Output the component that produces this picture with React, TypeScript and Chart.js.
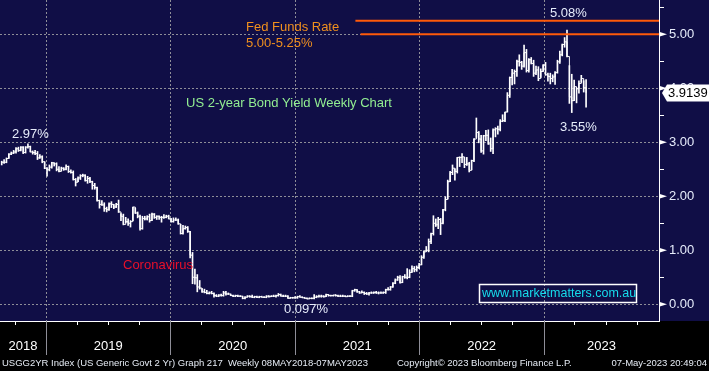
import React, { useEffect, useRef } from "react";
import { Chart, registerables } from "chart.js";

Chart.register(...registerables);

// ---------- DATA ----------
// Weekly bars (Friday of each week), starting week ending 24-Aug-2018
const firstWeekEnd = "2018-08-24";

const closes = [
  // 2018
  2.63, 2.63, 2.70, 2.78, 2.80, 2.82, 2.88, 2.85, 2.91, 2.81, 2.91, 2.92, 2.82, 2.81, 2.79, 2.71, 2.73, 2.64, 2.52, 2.49,
  // 2019
  2.54, 2.62, 2.60, 2.50, 2.46, 2.52, 2.50, 2.55, 2.46, 2.44, 2.31, 2.26, 2.34, 2.38, 2.39, 2.29, 2.33, 2.27, 2.20, 2.16,
  1.92, 1.85, 1.84, 1.77, 1.75, 1.86, 1.85, 1.80, 1.85, 1.71, 1.63, 1.48, 1.53, 1.50, 1.53, 1.80, 1.69, 1.63, 1.40, 1.59,
  1.58, 1.62, 1.55, 1.67, 1.61, 1.63, 1.61, 1.61, 1.61, 1.63, 1.58, 1.53,
  // 2020
  1.56, 1.56, 1.49, 1.31, 1.40, 1.42, 1.35, 0.91, 0.50, 0.49, 0.32, 0.30, 0.23, 0.22, 0.20, 0.21, 0.20, 0.16, 0.15, 0.17,
  0.16, 0.21, 0.19, 0.19, 0.16, 0.15, 0.16, 0.15, 0.15, 0.11, 0.13, 0.15, 0.14, 0.13, 0.14, 0.13, 0.14, 0.13, 0.13, 0.15,
  0.14, 0.15, 0.15, 0.16, 0.18, 0.15, 0.15, 0.15, 0.11, 0.12, 0.12, 0.12,
  // 2021
  0.14, 0.13, 0.12, 0.11, 0.10, 0.11, 0.11, 0.13, 0.14, 0.15, 0.15, 0.14, 0.18, 0.16, 0.16, 0.17, 0.16, 0.15, 0.15, 0.15,
  0.14, 0.15, 0.15, 0.25, 0.27, 0.23, 0.21, 0.22, 0.20, 0.19, 0.21, 0.21, 0.22, 0.21, 0.21, 0.21, 0.22, 0.27, 0.27, 0.32,
  0.39, 0.45, 0.50, 0.40, 0.51, 0.50, 0.50, 0.59, 0.66, 0.64, 0.68, 0.73,
  // 2022
  0.87, 0.97, 1.00, 1.16, 1.31, 1.50, 1.47, 1.57, 1.50, 1.75, 1.94, 2.27, 2.44, 2.52, 2.46, 2.72, 2.72, 2.73, 2.59, 2.60,
  2.48, 2.66, 3.06, 3.18, 3.06, 2.84, 3.12, 3.13, 2.97, 2.88, 3.23, 3.25, 3.24, 3.39, 3.40, 3.56, 3.87, 4.20, 4.28, 4.31,
  4.50, 4.48, 4.41, 4.66, 4.33, 4.53, 4.46, 4.28, 4.34, 4.18, 4.31, 4.43,
  // 2023
  4.25, 4.22, 4.18, 4.21, 4.29, 4.49, 4.62, 4.81, 4.86, 4.59, 3.84, 3.77, 4.03, 3.99, 4.09, 4.18, 4.01, 3.9139,
];

const highs = [
  // 2018
  2.65, 2.68, 2.71, 2.79, 2.82, 2.85, 2.90, 2.91, 2.92, 2.92, 2.92, 2.97, 2.93, 2.84, 2.85, 2.83, 2.77, 2.75, 2.64, 2.53,
  // 2019
  2.58, 2.63, 2.62, 2.62, 2.55, 2.54, 2.53, 2.58, 2.56, 2.49, 2.47, 2.33, 2.36, 2.40, 2.41, 2.40, 2.37, 2.35, 2.28, 2.24,
  2.17, 1.93, 1.92, 1.88, 1.80, 1.88, 1.90, 1.85, 1.87, 1.93, 1.68, 1.67, 1.61, 1.58, 1.55, 1.80, 1.78, 1.71, 1.65, 1.63,
  1.63, 1.64, 1.67, 1.69, 1.68, 1.64, 1.64, 1.63, 1.66, 1.65, 1.65, 1.59,
  // 2020
  1.60, 1.60, 1.58, 1.48, 1.46, 1.45, 1.44, 1.35, 0.96, 0.65, 0.55, 0.44, 0.29, 0.28, 0.26, 0.23, 0.24, 0.21, 0.18, 0.18,
  0.19, 0.24, 0.24, 0.21, 0.19, 0.17, 0.17, 0.17, 0.16, 0.15, 0.14, 0.16, 0.16, 0.17, 0.15, 0.15, 0.15, 0.15, 0.14, 0.16,
  0.16, 0.16, 0.17, 0.17, 0.20, 0.19, 0.17, 0.17, 0.16, 0.13, 0.13, 0.14,
  // 2021
  0.15, 0.16, 0.14, 0.13, 0.12, 0.12, 0.12, 0.18, 0.16, 0.17, 0.17, 0.16, 0.19, 0.18, 0.17, 0.17, 0.18, 0.17, 0.17, 0.17,
  0.16, 0.16, 0.16, 0.26, 0.28, 0.27, 0.24, 0.25, 0.23, 0.22, 0.22, 0.23, 0.23, 0.24, 0.23, 0.23, 0.23, 0.28, 0.31, 0.33,
  0.40, 0.47, 0.52, 0.53, 0.52, 0.55, 0.66, 0.64, 0.71, 0.70, 0.71, 0.76,
  // 2022
  0.90, 0.99, 1.07, 1.21, 1.32, 1.64, 1.58, 1.61, 1.59, 1.76, 1.99, 2.30, 2.46, 2.58, 2.51, 2.72, 2.73, 2.79, 2.72, 2.72,
  2.63, 2.67, 3.07, 3.45, 3.20, 3.13, 3.13, 3.22, 3.23, 3.08, 3.25, 3.27, 3.30, 3.42, 3.51, 3.56, 3.92, 4.21, 4.35, 4.34,
  4.52, 4.62, 4.50, 4.80, 4.72, 4.55, 4.57, 4.52, 4.41, 4.40, 4.36, 4.44,
  // 2023
  4.48, 4.28, 4.28, 4.25, 4.31, 4.52, 4.69, 4.82, 4.94, 5.08, 4.42, 4.26, 4.15, 4.01, 4.14, 4.24, 4.14, 4.16,
];

const lows = [
  // 2018
  2.58, 2.61, 2.62, 2.70, 2.77, 2.79, 2.80, 2.83, 2.84, 2.79, 2.80, 2.89, 2.82, 2.78, 2.77, 2.68, 2.70, 2.62, 2.51, 2.37,
  // 2019
  2.47, 2.52, 2.56, 2.47, 2.45, 2.47, 2.48, 2.49, 2.44, 2.43, 2.30, 2.19, 2.27, 2.31, 2.36, 2.28, 2.24, 2.25, 2.13, 2.13,
  1.91, 1.78, 1.83, 1.72, 1.71, 1.74, 1.79, 1.77, 1.79, 1.70, 1.55, 1.47, 1.51, 1.46, 1.43, 1.55, 1.68, 1.60, 1.37, 1.39,
  1.56, 1.56, 1.52, 1.55, 1.59, 1.57, 1.57, 1.52, 1.59, 1.60, 1.58, 1.52,
  // 2020
  1.52, 1.55, 1.48, 1.30, 1.30, 1.39, 1.33, 0.86, 0.38, 0.37, 0.23, 0.28, 0.22, 0.21, 0.19, 0.19, 0.19, 0.13, 0.14, 0.14,
  0.15, 0.15, 0.17, 0.18, 0.16, 0.14, 0.14, 0.14, 0.14, 0.10, 0.10, 0.13, 0.13, 0.12, 0.12, 0.12, 0.12, 0.13, 0.12, 0.12,
  0.13, 0.14, 0.14, 0.13, 0.15, 0.15, 0.14, 0.14, 0.11, 0.11, 0.11, 0.11,
  // 2021
  0.11, 0.13, 0.12, 0.11, 0.097, 0.10, 0.10, 0.10, 0.12, 0.13, 0.13, 0.13, 0.14, 0.15, 0.15, 0.15, 0.15, 0.14, 0.14, 0.14,
  0.14, 0.14, 0.14, 0.14, 0.24, 0.22, 0.20, 0.21, 0.18, 0.18, 0.17, 0.20, 0.20, 0.20, 0.19, 0.20, 0.20, 0.20, 0.26, 0.26,
  0.31, 0.38, 0.44, 0.39, 0.40, 0.48, 0.47, 0.49, 0.59, 0.60, 0.61, 0.66,
  // 2022
  0.73, 0.85, 0.98, 0.97, 1.12, 1.28, 1.44, 1.40, 1.29, 1.49, 1.73, 1.95, 2.27, 2.40, 2.30, 2.43, 2.55, 2.62, 2.53, 2.57,
  2.45, 2.49, 2.64, 3.09, 2.99, 2.81, 2.78, 3.03, 2.96, 2.83, 2.79, 3.10, 3.15, 3.21, 3.38, 3.38, 3.56, 3.83, 4.06, 4.08,
  4.22, 4.41, 4.35, 4.39, 4.30, 4.30, 4.45, 4.22, 4.25, 4.14, 4.20, 4.31,
  // 2023
  4.24, 4.13, 4.08, 4.12, 4.07, 4.28, 4.46, 4.60, 4.76, 4.58, 3.72, 3.55, 3.77, 3.73, 3.91, 4.11, 3.93, 3.65,
];

const yearLabels = [2018, 2019, 2020, 2021, 2022, 2023];
const yTickValues = [0, 1, 2, 3, 4, 5];
const fedFundsUpper = 5.25;
const fedFundsLower = 5.0;
const fedUpperFrom = "2021-06-27";
const fedLowerFrom = "2021-07-12";
const axisStart = "2018-08-19";
const axisEnd = "2023-12-05";

// ---------- HELPERS ----------
const dayNum = (s: string) => {
  const [y, m, d] = s.split("-").map(Number);
  return Date.UTC(y, m - 1, d) / 86400000;
};
const weekX = closes.map((_, i) => dayNum(firstWeekEnd) + 7 * i);

const NAVY = "#100e46";
const GRID = "#8e8e98";
const FONT = "'Liberation Sans', Arial, sans-serif";
const LABEL = "#e6ecfb";

const decorPlugin = {
  id: "decor",
  beforeDraw(chart: any) {
    const { ctx, width, height, chartArea } = chart;
    ctx.save();
    ctx.fillStyle = NAVY;
    ctx.fillRect(0, 0, width, chartArea.bottom);
    ctx.fillStyle = "#000";
    ctx.fillRect(0, chartArea.bottom, width, height - chartArea.bottom);
    ctx.restore();
  },
  beforeDatasetsDraw(chart: any) {
    const { ctx, chartArea } = chart;
    const xs = chart.scales.x;
    ctx.save();
    ctx.strokeStyle = GRID;
    ctx.lineWidth = 1;
    ctx.setLineDash([2, 2]);
    yearLabels.forEach((yr) => {
      const v = dayNum(`${yr}-01-01`);
      if (v <= xs.min || v >= xs.max) return;
      const px = Math.round(xs.getPixelForValue(v)) + 0.5;
      ctx.beginPath();
      ctx.moveTo(px, chartArea.top);
      ctx.lineTo(px, chartArea.bottom);
      ctx.stroke();
    });
    ctx.restore();
  },
  afterDraw(chart: any) {
    const { ctx, chartArea, width } = chart;
    const xs = chart.scales.x;
    const ys = chart.scales.y;
    const bottom = chartArea.bottom;
    const right = chartArea.right;
    ctx.save();

    // x axis: year separators, quarter ticks, year labels
    ctx.lineWidth = 1;
    yearLabels.forEach((yr) => {
      [1, 4, 7, 10].forEach((mo) => {
        const v = dayNum(`${yr}-${String(mo).padStart(2, "0")}-01`);
        if (v <= xs.min || v >= xs.max) return;
        const px = Math.round(xs.getPixelForValue(v)) + 0.5;
        ctx.beginPath();
        if (mo === 1) {
          ctx.strokeStyle = GRID;
          ctx.moveTo(px, bottom);
          ctx.lineTo(px, bottom + 34);
        } else {
          ctx.strokeStyle = "#ffffff";
          ctx.moveTo(px, bottom);
          ctx.lineTo(px, bottom + 4);
        }
        ctx.stroke();
      });
    });
    ctx.fillStyle = "#ffffff";
    ctx.font = `13px ${FONT}`;
    ctx.textAlign = "center";
    ctx.textBaseline = "middle";
    yearLabels.forEach((yr) => {
      const a = Math.max(xs.min, dayNum(`${yr}-01-01`));
      const b = Math.min(xs.max, dayNum(`${yr + 1}-01-01`));
      const cx = (xs.getPixelForValue(a) + xs.getPixelForValue(b)) / 2;
      ctx.fillText(String(yr), cx, bottom + 25);
    });

    // y axis: minor ticks, arrow markers, labels
    ctx.strokeStyle = "#ffffff";
    for (let v = -0.5; v <= ys.max; v += 0.5) {
      if (v < ys.min || Number.isInteger(v)) continue;
      const py = Math.round(ys.getPixelForValue(v)) + 0.5;
      ctx.beginPath();
      ctx.moveTo(right, py);
      ctx.lineTo(right + 5, py);
      ctx.stroke();
    }
    ctx.textAlign = "left";
    yTickValues.forEach((v) => {
      const py = ys.getPixelForValue(v);
      ctx.fillStyle = "#ffffff";
      ctx.beginPath();
      ctx.moveTo(right, py - 2.5);
      ctx.lineTo(right + 8, py);
      ctx.lineTo(right, py + 2.5);
      ctx.closePath();
      ctx.fill();
      ctx.fillStyle = LABEL;
      ctx.fillText(v.toFixed(2), right + 10, py);
    });

    // last value flag
    const lastV = closes[closes.length - 1];
    const ly = ys.getPixelForValue(lastV);
    ctx.fillStyle = "#ffffff";
    ctx.beginPath();
    ctx.moveTo(right + 3, ly);
    ctx.lineTo(right + 8, ly - 8.5);
    ctx.lineTo(width, ly - 8.5);
    ctx.lineTo(width, ly + 8.5);
    ctx.lineTo(right + 8, ly + 8.5);
    ctx.closePath();
    ctx.fill();
    ctx.fillStyle = "#000000";
    ctx.fillText(String(lastV), right + 9, ly + 0.5);

    // annotations
    ctx.font = `13px ${FONT}`;
    ctx.fillStyle = LABEL;
    ctx.fillText("2.97%", 12, 134);
    ctx.fillText("5.08%", 550, 13);
    ctx.fillText("3.55%", 560, 127);
    ctx.fillText("0.097%", 284, 309);
    ctx.fillStyle = "#92ee92";
    ctx.fillText("US 2-year Bond Yield Weekly Chart", 186, 103);
    ctx.fillStyle = "#f0901e";
    ctx.fillText("Fed Funds Rate", 246, 27);
    ctx.fillText("5.00-5.25%", 246, 43);
    ctx.fillStyle = "#e8102a";
    ctx.fillText("Coronavirus", 123, 265);

    // website box
    ctx.strokeStyle = "#ffffff";
    ctx.lineWidth = 1.5;
    ctx.strokeRect(479.5, 284.5, 157, 18);
    ctx.fillStyle = "#16dcec";
    ctx.font = `12.5px ${FONT}`;
    ctx.fillText("www.marketmatters.com.au", 482, 294);

    // footer
    ctx.font = `9.5px ${FONT}`;
    ctx.fillStyle = "#e6ecf5";
    ctx.fillText("USGG2YR Index (US Generic Govt 2 Yr) Graph 217  Weekly 08MAY2018-07MAY2023", 2, 363);
    ctx.fillText("Copyright\u00A9 2023 Bloomberg Finance L.P.", 397, 363);
    ctx.textAlign = "right";
    ctx.fillText("07-May-2023 20:49:04", 707, 363);
    ctx.restore();
  },
};

export default function App() {
  const canvasRef = useRef<HTMLCanvasElement | null>(null);

  useEffect(() => {
    const canvas = canvasRef.current;
    if (!canvas) return;
    const xMin = dayNum(axisStart);
    const xMax = dayNum(axisEnd);

    const chart = new Chart(canvas, {
      type: "bar",
      data: {
        datasets: [
          {
            type: "line",
            label: "Upper",
            data: [
              { x: dayNum(fedUpperFrom), y: fedFundsUpper },
              { x: xMax, y: fedFundsUpper },
            ],
            borderColor: "#ff5a0a",
            borderWidth: 2,
            pointRadius: 0,
          },
          {
            type: "line",
            label: "Lower",
            data: [
              { x: dayNum(fedLowerFrom), y: fedFundsLower },
              { x: xMax, y: fedFundsLower },
            ],
            borderColor: "#ff5a0a",
            borderWidth: 2,
            pointRadius: 0,
          },
          {
            type: "line",
            label: "Close",
            data: closes.map((c, i) => ({ x: weekX[i], y: c })),
            stepped: true,
            borderColor: "#ffffff",
            borderWidth: 1,
            pointRadius: 0,
          },
          {
            type: "bar",
            label: "Range",
            data: highs.map((h, i) => ({ x: weekX[i], y: [lows[i], h] })),
            backgroundColor: "#ffffff",
            borderWidth: 0,
            barThickness: 1,
            grouped: false,
          },
        ] as any,
      },
      options: {
        responsive: false,
        animation: false,
        devicePixelRatio: 1,
        layout: { padding: 0 },
        plugins: { legend: { display: false }, tooltip: { enabled: false } },
        scales: {
          x: {
            type: "linear",
            min: xMin,
            max: xMax,
            offset: false,
            ticks: { display: false },
            grid: { display: false },
            border: { display: true, color: "#ffffff", width: 1 },
            afterFit: (s: any) => {
              s.height = 50;
            },
          },
          y: {
            type: "linear",
            position: "right",
            min: -0.31,
            max: 5.635,
            ticks: { display: false, stepSize: 1, includeBounds: false },
            grid: { color: GRID, lineWidth: 1, drawTicks: false },
            border: { display: true, color: "#ffffff", width: 1, dash: [2, 2] },
            afterFit: (s: any) => {
              s.width = 50;
            },
          },
        },
      } as any,
      plugins: [decorPlugin],
    });
    return () => chart.destroy();
  }, []);

  return (
    <div style={{ position: "fixed", left: 0, top: 0, width: 709, height: 371 }}>
      <canvas ref={canvasRef} width={709} height={371} style={{ display: "block" }} />
    </div>
  );
}
